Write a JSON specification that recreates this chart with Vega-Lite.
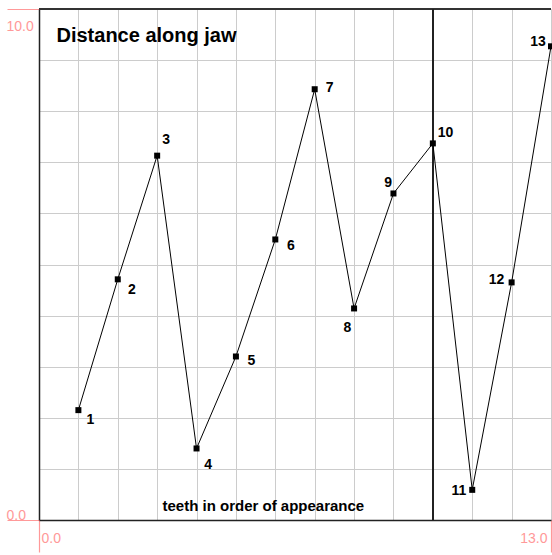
{
  "$schema": "https://vega.github.io/schema/vega-lite/v6.json",
  "autosize": "none",
  "width": 512,
  "height": 511,
  "padding": {"left": 39, "top": 9, "right": 1, "bottom": 35},
  "config": {
    "font": "Liberation Sans",
    "view": {"stroke": null},
    "axis": {
      "gridColor": "#cccccc",
      "gridWidth": 1,
      "gridOpacity": 1,
      "domainColor": "#222222",
      "domainWidth": 1.5,
      "tickSize": 32,
      "tickWidth": 1.2,
      "labelColor": "#ff9999",
      "labelFont": "Liberation Sans",
      "labelFontSize": 14,
      "labelFlush": false,
      "labelOverlap": false,
      "titleFont": "Liberation Sans",
      "titleFontWeight": "bold",
      "titleColor": "#000000"
    }
  },
  "data": {
    "values": [
      {"tooth": 1, "distance": 2.15},
      {"tooth": 2, "distance": 4.71},
      {"tooth": 3, "distance": 7.13},
      {"tooth": 4, "distance": 1.40},
      {"tooth": 5, "distance": 3.20},
      {"tooth": 6, "distance": 5.49},
      {"tooth": 7, "distance": 8.43},
      {"tooth": 8, "distance": 4.14},
      {"tooth": 9, "distance": 6.39},
      {"tooth": 10, "distance": 7.37},
      {"tooth": 11, "distance": 0.59},
      {"tooth": 12, "distance": 4.65},
      {"tooth": 13, "distance": 9.27}
    ]
  },
  "encoding": {
    "x": {
      "field": "tooth",
      "type": "quantitative",
      "scale": {"domain": [0, 13], "nice": false, "zero": false},
      "axis": {
        "values": [0, 1, 2, 3, 4, 5, 6, 7, 8, 9, 10, 11, 12, 13],
        "grid": true,
        "title": "teeth in order of appearance",
        "titleFontSize": 15,
        "titleX": 123,
        "titleY": -10,
        "titleAlign": "left",
        "titleBaseline": "alphabetic",
        "tickColor": {"condition": {"test": "datum.value == 0 || datum.value == 13", "value": "#ff9999"}, "value": "transparent"},
        "labelExpr": "datum.value == 0 || datum.value == 13 ? format(datum.value, '.1f') : ''",
        "labelAlign": {"condition": {"test": "datum.value == 0", "value": "left"}, "value": "right"},
        "labelOffset": {"condition": {"test": "datum.value == 0", "value": 2}, "value": -4},
        "labelBaseline": "alphabetic",
        "labelPadding": -10
      }
    },
    "y": {
      "field": "distance",
      "type": "quantitative",
      "scale": {"domain": [0, 10], "nice": false, "zero": false},
      "axis": {
        "values": [0, 1, 2, 3, 4, 5, 6, 7, 8, 9, 10],
        "grid": true,
        "title": "Distance along jaw",
        "titleFontSize": 20,
        "titleAngle": 0,
        "titleX": 17,
        "titleY": 32,
        "titleAlign": "left",
        "titleBaseline": "alphabetic",
        "tickColor": {"condition": {"test": "datum.value == 0 || datum.value == 10", "value": "#ff9999"}, "value": "transparent"},
        "labelExpr": "datum.value == 0 || datum.value == 10 ? format(datum.value, '.1f') : ''",
        "labelAlign": "left",
        "labelBaseline": "alphabetic",
        "labelOffset": {"condition": {"test": "datum.value == 10", "value": 21}, "value": -1},
        "labelPadding": 1
      }
    }
  },
  "layer": [
    {
      "mark": {"type": "rule", "color": "#333333", "strokeWidth": 1.5},
      "encoding": {"x": null, "y": {"datum": 10, "type": "quantitative"}}
    },
    {
      "mark": {"type": "rule", "color": "#222222", "strokeWidth": 1.2},
      "encoding": {"y": null, "x": {"datum": 10, "type": "quantitative"}}
    },
    {
      "mark": {"type": "line", "color": "#000000", "strokeWidth": 1}
    },
    {
      "mark": {"type": "point", "shape": "square", "filled": true, "size": 36, "color": "#000000", "opacity": 1}
    },
    {"transform": [{"filter": "datum.tooth == 1"}], "mark": {"type": "text", "fontWeight": "bold", "fontSize": 14, "align": "center", "baseline": "middle", "dx": 12, "dy": 10}, "encoding": {"text": {"field": "tooth"}}},
    {"transform": [{"filter": "datum.tooth == 2"}], "mark": {"type": "text", "fontWeight": "bold", "fontSize": 14, "align": "center", "baseline": "middle", "dx": 14, "dy": 11}, "encoding": {"text": {"field": "tooth"}}},
    {"transform": [{"filter": "datum.tooth == 3"}], "mark": {"type": "text", "fontWeight": "bold", "fontSize": 14, "align": "center", "baseline": "middle", "dx": 9, "dy": -16}, "encoding": {"text": {"field": "tooth"}}},
    {"transform": [{"filter": "datum.tooth == 4"}], "mark": {"type": "text", "fontWeight": "bold", "fontSize": 14, "align": "center", "baseline": "middle", "dx": 11.5, "dy": 16.5}, "encoding": {"text": {"field": "tooth"}}},
    {"transform": [{"filter": "datum.tooth == 5"}], "mark": {"type": "text", "fontWeight": "bold", "fontSize": 14, "align": "center", "baseline": "middle", "dx": 15.5, "dy": 5}, "encoding": {"text": {"field": "tooth"}}},
    {"transform": [{"filter": "datum.tooth == 6"}], "mark": {"type": "text", "fontWeight": "bold", "fontSize": 14, "align": "center", "baseline": "middle", "dx": 15.5, "dy": 6.3}, "encoding": {"text": {"field": "tooth"}}},
    {"transform": [{"filter": "datum.tooth == 7"}], "mark": {"type": "text", "fontWeight": "bold", "fontSize": 14, "align": "center", "baseline": "middle", "dx": 15, "dy": -1.5}, "encoding": {"text": {"field": "tooth"}}},
    {"transform": [{"filter": "datum.tooth == 8"}], "mark": {"type": "text", "fontWeight": "bold", "fontSize": 14, "align": "center", "baseline": "middle", "dx": -6.7, "dy": 19.8}, "encoding": {"text": {"field": "tooth"}}},
    {"transform": [{"filter": "datum.tooth == 9"}], "mark": {"type": "text", "fontWeight": "bold", "fontSize": 14, "align": "center", "baseline": "middle", "dx": -5.4, "dy": -10.2}, "encoding": {"text": {"field": "tooth"}}},
    {"transform": [{"filter": "datum.tooth == 10"}], "mark": {"type": "text", "fontWeight": "bold", "fontSize": 14, "align": "center", "baseline": "middle", "dx": 12.6, "dy": -10.7}, "encoding": {"text": {"field": "tooth"}}},
    {"transform": [{"filter": "datum.tooth == 11"}], "mark": {"type": "text", "fontWeight": "bold", "fontSize": 14, "align": "center", "baseline": "middle", "dx": -13.3, "dy": 1.3}, "encoding": {"text": {"field": "tooth"}}},
    {"transform": [{"filter": "datum.tooth == 12"}], "mark": {"type": "text", "fontWeight": "bold", "fontSize": 14, "align": "center", "baseline": "middle", "dx": -15, "dy": -2.5}, "encoding": {"text": {"field": "tooth"}}},
    {"transform": [{"filter": "datum.tooth == 13"}], "mark": {"type": "text", "fontWeight": "bold", "fontSize": 14, "align": "center", "baseline": "middle", "dx": -13, "dy": -4.4}, "encoding": {"text": {"field": "tooth"}}}
  ]
}
